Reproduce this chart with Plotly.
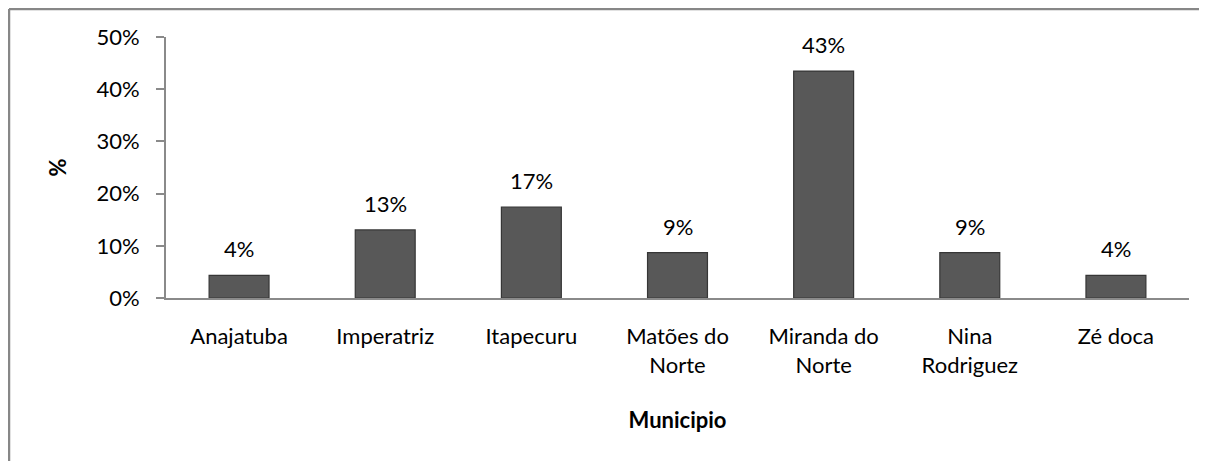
import plotly.graph_objects as go

categories = ["Anajatuba", "Imperatriz", "Itapecuru", "Matões do<br>Norte",
              "Miranda do<br>Norte", "Nina<br>Rodriguez", "Zé doca"]
values = [4.35, 13.04, 17.39, 8.70, 43.48, 8.70, 4.35]
labels = ["4%", "13%", "17%", "9%", "43%", "9%", "4%"]
y_ticks = [0, 10, 20, 30, 40, 50]
y_ticklabels = ["0%", "10%", "20%", "30%", "40%", "50%"]

FONT = "Lato, Open Sans, sans-serif"
OFF = 8  # page body margin
W, H = 1207 - OFF, 461 - OFF
L, T = 166 - OFF, 37 - OFF
R = W - (1189 - OFF)
B = H - (298 - OFF)
pw, ph = W - L - R, H - T - B

fig = go.Figure()
fig.add_trace(go.Bar(
    x=categories, y=values, width=0.41,
    marker=dict(color="#585858", line=dict(color="#363636", width=1.2)),
    hoverinfo="skip",
))

for c, v, t in zip(categories, values, labels):
    fig.add_annotation(x=c, y=v, text=t, showarrow=False, yanchor="bottom",
                       yshift=11, font=dict(family=FONT, size=22, color="#000000"))

fig.update_layout(
    width=W, height=H,
    margin=dict(l=L, r=R, t=T, b=B),
    paper_bgcolor="white", plot_bgcolor="white",
    showlegend=False,
    font=dict(family=FONT, size=22, color="#000000"),
)
fig.update_xaxes(
    showline=True, linecolor="#8a8a8a", linewidth=2,
    ticks="", showgrid=False, tickfont=dict(size=22), ticklabelstandoff=18,
    title=dict(text="<b>Municipio</b>", font=dict(family=FONT, size=22), standoff=36),
)
fig.update_yaxes(
    range=[0, 50], tickvals=y_ticks, ticktext=y_ticklabels,
    showline=True, linecolor="#8a8a8a", linewidth=2,
    ticks="outside", ticklen=8, tickcolor="#8a8a8a", tickwidth=1.5,
    showgrid=False, zeroline=False, tickfont=dict(size=22), ticklabelstandoff=12,
    title=dict(text="<b>%</b>", font=dict(family=FONT, size=22), standoff=24),
)

# chart border (left and top edges visible)
fx = (1 - L) / pw
fy_top = (H - B - 1) / ph
fig.add_shape(type="line", xref="paper", yref="paper", x0=fx, x1=fx, y0=-2, y1=fy_top,
              line=dict(color="#878787", width=2.5))
fig.add_shape(type="line", xref="paper", yref="paper", x0=fx, x1=2, y0=fy_top, y1=fy_top,
              line=dict(color="#878787", width=2.5))

fig.write_html("out.html")
